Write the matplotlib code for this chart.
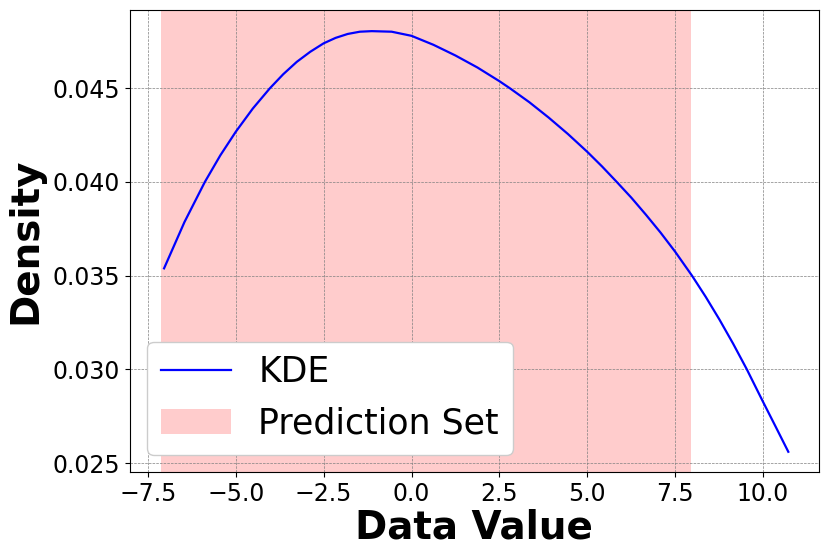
import matplotlib
matplotlib.use("Agg")
import matplotlib.pyplot as plt

# KDE curve values
kde_x = [-7.04, -6.46, -5.88, -5.44, -5.00, -4.515, -4.03, -3.65, -3.265, -2.88,
         -2.50, -2.16, -1.815, -1.47, -1.13, -0.565, 0.00, 0.625, 1.25, 1.875,
         2.50, 2.80, 3.35, 3.90, 4.45, 5.00, 5.42, 5.84, 6.255, 6.67, 7.085,
         7.50, 7.98, 8.37, 8.76, 9.15, 9.54, 10.00, 10.36, 10.72]
kde_y = [0.03539, 0.03786, 0.04000, 0.04142, 0.04268, 0.04392, 0.04500, 0.04575,
         0.04641, 0.04695, 0.04740, 0.04769, 0.04790, 0.04802, 0.04805, 0.04802,
         0.04780, 0.04732, 0.04675, 0.04611, 0.04538, 0.04500, 0.04426, 0.04344,
         0.04256, 0.04161, 0.04083, 0.04000, 0.03916, 0.03825, 0.03730, 0.03628,
         0.03500, 0.03387, 0.03266, 0.03137, 0.03000, 0.02827, 0.02694, 0.02560]

# Prediction set interval
pred_lo = -7.14
pred_hi = 7.94

fig = plt.figure(figsize=(8.3, 5.54), dpi=100)
ax = fig.add_axes([0.1566, 0.148, 0.830, 0.834])

ax.plot(kde_x, kde_y, color="blue", lw=1.6, label="KDE")
ax.axvspan(pred_lo, pred_hi, color="red", alpha=0.2, lw=0, label="Prediction Set")

ax.set_xlim(-8.01, 11.59)
ax.set_ylim(0.02452, 0.04918)
ax.set_xticks([-7.5, -5.0, -2.5, 0.0, 2.5, 5.0, 7.5, 10.0])
ax.set_yticks([0.025, 0.030, 0.035, 0.040, 0.045])
ax.grid(True, linestyle="--", linewidth=0.5, color="gray")
ax.tick_params(labelsize=17)

ax.set_xlabel("Data Value", fontsize=28, fontweight="bold", labelpad=2)
ax.set_ylabel("Density", fontsize=28, fontweight="bold", labelpad=6)

ax.legend(loc="lower left", fontsize=25, framealpha=1.0)

fig.savefig("out.png", dpi=100)
